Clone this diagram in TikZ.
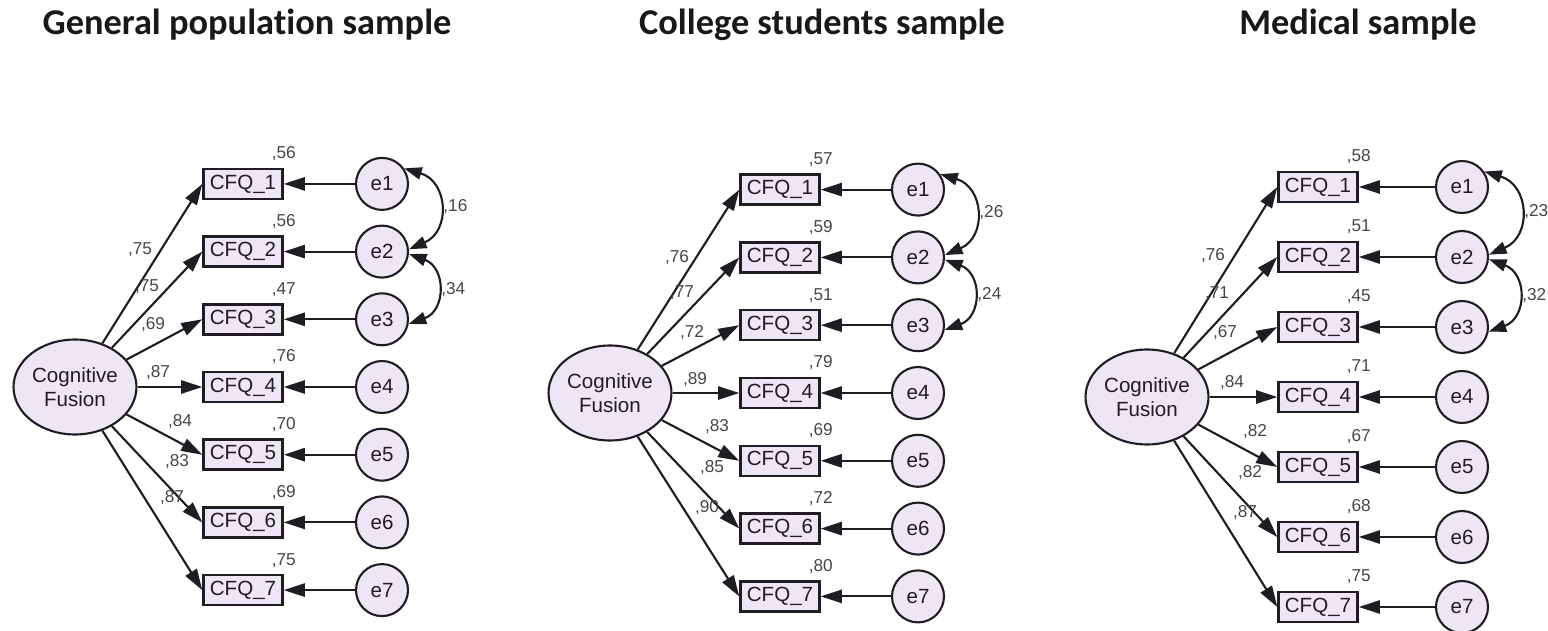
\documentclass[tikz,border=0pt]{standalone}
\usepackage{fontspec}
\setmainfont{Liberation Sans}
\newfontfamily\headfont[Ligatures=NoCommon]{Carlito}
\usetikzlibrary{arrows.meta,shapes.geometric}

\definecolor{lavender}{RGB}{237,230,244}
\definecolor{ink}{RGB}{32,28,36}
\definecolor{coefgray}{RGB}{70,70,70}

\tikzset{
  heading/.style={font=\headfont\bfseries\fontsize{20.7}{25}\selectfont, text=black!90, anchor=base, inner sep=0pt},
  latent/.style={ellipse, draw=ink, fill=lavender, line width=1.2pt, minimum width=2.46cm, minimum height=1.9cm,
    inner sep=0pt, align=center, text=ink, font=\fontsize{11.7}{14}\selectfont},
  item/.style={rectangle, draw=ink, fill=lavender, line width=1.4pt, minimum width=1.58cm, minimum height=0.6cm,
    inner sep=0pt, text=ink, font=\fontsize{11.7}{14}\selectfont},
  err/.style={circle, draw=ink, fill=lavender, line width=1.2pt, minimum size=1.04cm, inner sep=0pt,
    text=ink, font=\fontsize{11.7}{14}\selectfont},
  coef/.style={inner sep=0pt, text=coefgray, font=\fontsize{9.8}{11}\selectfont},
  load/.style={draw=ink, line width=1.2pt, -{Triangle[length=12pt,width=7.5pt]}},
  cov/.style={draw=ink, line width=1.2pt, {Triangle[length=10pt,width=7pt]}-{Triangle[length=10pt,width=7pt]}},
}

\begin{document}
\begin{tikzpicture}[x=0.02cm, y=-0.02cm]
  \useasboundingbox (0,0) rectangle (1548,631);

  % Titles
  \node[heading] (gtitle) at (247,35) {General population sample};
  \node[heading] (ctitle) at (822,35) {College students sample};
  \node[heading] (mtitle) at (1358,35) {Medical sample};

  % General population sample
  \begin{scope}[shift={(75,387)}]
    \node[latent] (gcf) at (0,0) {Cognitive\\Fusion};
    \foreach \i/\l/\r/\lx/\ly in {1/75/56/65/-137, 2/75/56/72/-100, 3/69/47/78/-62, 4/87/76/83/-14,
                                  5/84/70/105/35, 6/83/69/102/75, 7/87/75/97/111}{
      \node[item] (gx\i) at (168,{(\i-4)*67.7}) {CFQ\_\i};
      \node[err] (ge\i) at (307,{(\i-4)*67.7}) {e\i};
      \node[coef, anchor=base] (gr\i) at ([yshift=5pt]gx\i.north east) {,\r};
      \node[coef] (gl\i) at (\lx,\ly) {,\l};
      \draw[load] (gcf) -- (gx\i.west);
      \draw[load] (ge\i) -- (gx\i);
    }
    \draw[cov] (ge1.35) to[bend left=70, looseness=1.45] node[coef, right=2pt] (gc12) {,16} (ge2.5);
    \draw[cov] (ge2.-5) to[bend left=70, looseness=1.45] node[coef, right=2pt] (gc23) {,34} (ge3.-10);
  \end{scope}

  % College students sample
  \begin{scope}[shift={(610,393)}]
    \node[latent] (ccf) at (0,0) {Cognitive\\Fusion};
    \foreach \i/\l/\r/\lx/\ly in {1/76/57/67/-135, 2/77/59/72/-100, 3/72/51/82/-60, 4/89/79/85/-13,
                                  5/83/69/107/34, 6/85/72/102/75, 7/90/80/97/115}{
      \node[item] (cx\i) at (170,{(\i-4)*67.8}) {CFQ\_\i};
      \node[err] (ce\i) at (308,{(\i-4)*67.8}) {e\i};
      \node[coef, anchor=base] (cr\i) at ([yshift=5pt]cx\i.north east) {,\r};
      \node[coef] (cl\i) at (\lx,\ly) {,\l};
      \draw[load] (ccf) -- (cx\i.west);
      \draw[load] (ce\i) -- (cx\i);
    }
    \draw[cov] (ce1.35) to[bend left=70, looseness=1.45] node[coef, right=2pt] (cc12) {,26} (ce2.5);
    \draw[cov] (ce2.-5) to[bend left=70, looseness=1.45] node[coef, right=2pt] (cc23) {,24} (ce3.-10);
  \end{scope}

  % Medical sample
  \begin{scope}[shift={(1147,397)}]
    \node[latent] (mcf) at (0,0) {Cognitive\\Fusion};
    \foreach \i/\l/\r/\lx/\ly in {1/76/58/66/-141, 2/71/51/70/-103, 3/67/45/78/-64, 4/84/71/85/-14,
                                  5/82/67/108/35, 6/82/68/103/76, 7/87/75/98/116}{
      \node[item] (mx\i) at (171,{(\i-4)*70}) {CFQ\_\i};
      \node[err] (me\i) at (315,{(\i-4)*70}) {e\i};
      \node[coef, anchor=base] (mr\i) at ([yshift=5pt]mx\i.north east) {,\r};
      \node[coef] (ml\i) at (\lx,\ly) {,\l};
      \draw[load] (mcf) -- (mx\i.west);
      \draw[load] (me\i) -- (mx\i);
    }
    \draw[cov] (me1.35) to[bend left=70, looseness=1.45] node[coef, right=2pt] (mc12) {,23} (me2.5);
    \draw[cov] (me2.-5) to[bend left=70, looseness=1.45] node[coef, right=2pt] (mc23) {,32} (me3.-10);
  \end{scope}
\end{tikzpicture}
\end{document}
